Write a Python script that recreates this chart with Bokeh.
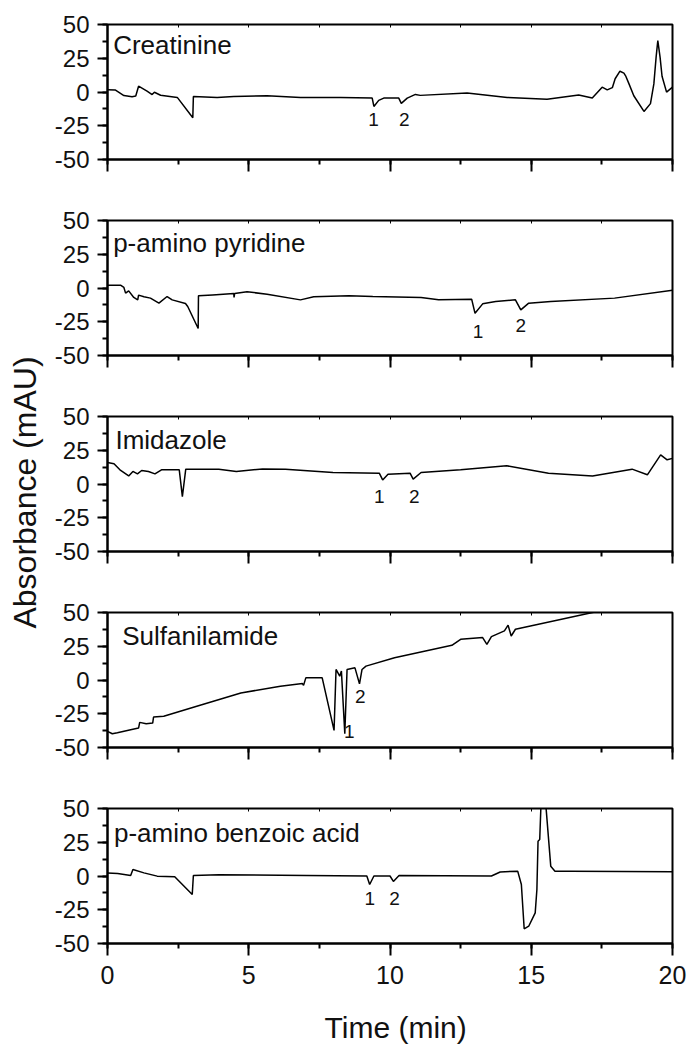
import math
from bokeh.plotting import figure
from bokeh.layouts import column, row
from bokeh.models import Range1d, SingleIntervalTicker, LinearAxis, Label, ColumnDataSource, CustomJSTickFormatter
from bokeh.core.properties import value
from bokeh.embed import file_html
from bokeh.resources import INLINE

FONT = "Liberation Sans"
INK = "#111111"

# ---------------- data (time in min, absorbance in mAU) ----------------
panel_names = ["Creatinine", "p-amino pyridine", "Imidazole", "Sulfanilamide", "p-amino benzoic acid"]
x_title = "Time (min)"
y_title = "Absorbance (mAU)"

creatinine_t = [0, 0.27, 0.58, 0.87, 1.0, 1.1, 1.4, 1.58, 1.66, 1.88, 2.47, 3.02, 3.04, 3.88, 4.47,
                5.65, 6.83, 8.25, 9.37, 9.43, 9.6, 9.78, 10.31, 10.4, 10.61, 10.9, 11.07, 12.73,
                14.15, 15.56, 16.68, 17.16, 17.51, 17.69, 17.87, 17.97, 18.14, 18.28, 18.34, 18.46,
                18.63, 18.99, 19.22, 19.34, 19.42, 19.48, 19.56, 19.63, 19.79, 20.0]
creatinine_y = [1.6, 1.5, -2.6, -3.5, -3.0, 4.3, 0.6, -1.9, -0.2, -2.4, -4.0, -19.1, -3.3, -4.0, -3.3,
                -2.8, -4.0, -4.1, -4.5, -10.7, -6.2, -4.5, -4.5, -8.4, -4.5, -1.8, -2.5, -0.8,
                -4.0, -5.4, -2.3, -4.5, 3.6, 1.6, 3.2, 9.8, 15.4, 14.0, 12.0, 6.0,
                -2.8, -14.4, -8.6, 6.0, 25.8, 38.0, 25.8, 11.7, -0.1, 3.6]

pyridine_t = [0, 0.46, 0.58, 0.64, 0.75, 0.93, 1.07, 1.1, 1.29, 1.52, 1.82, 2.11, 2.29, 2.76, 2.84,
              3.21, 3.22, 3.72, 4.47, 4.48, 4.5, 4.94, 5.65, 6.83, 7.3, 8.54, 9.39, 11.1, 11.72,
              12.89, 13.01, 13.28, 13.74, 14.44, 14.63, 14.91, 15.69, 17.95, 20.0]
pyridine_y = [2.1, 2.1, 0.4, -3.8, -2.1, -7.0, -8.8, -5.3, -6.5, -7.5, -11.2, -6.3, -8.8, -11.5, -13.7,
              -30.0, -5.8, -5.1, -4.1, -7.0, -4.0, -2.8, -4.6, -8.8, -6.5, -5.8, -6.25, -7.0, -8.75,
              -8.25, -18.75, -11.75, -10.0, -8.75, -16.25, -11.25, -10.0, -7.5, -1.75]

imidazole_t = [0, 0.23, 0.44, 0.75, 0.9, 1.06, 1.21, 1.45, 1.68, 1.91, 2.54, 2.65, 2.77, 3.94, 4.56,
               5.49, 6.3, 7.98, 9.62, 9.74, 9.93, 10.71, 10.82, 11.1, 12.5, 14.13, 15.61, 17.17,
               18.57, 19.11, 19.58, 19.81, 20.0]
imidazole_y = [15.9, 15.0, 10.5, 6.0, 9.3, 7.5, 10.0, 9.3, 7.5, 10.5, 10.5, -9.3, 11.0, 11.0, 9.3,
               11.2, 11.0, 8.5, 8.0, 3.0, 7.3, 8.0, 3.6, 8.5, 10.5, 13.5, 8.0, 6.0,
               11.0, 6.8, 21.6, 17.9, 19.0]

sulfa_t = [0, 0.17, 0.35, 0.82, 1.1, 1.14, 1.37, 1.6, 1.63, 1.99, 3.16, 4.72, 6.12, 6.9, 6.94, 7.02,
           7.6, 8.02, 8.09, 8.22, 8.28, 8.4, 8.48, 8.76, 8.92, 9.01, 9.15, 10.16, 12.19, 12.5, 13.28,
           13.43, 13.59, 14.05, 14.18, 14.29, 14.44, 17.17, 20.0]
sulfa_y = [-38.0, -39.8, -39.0, -36.8, -35.6, -31.4, -32.4, -31.9, -27.4, -26.9, -19.5, -9.6, -4.6,
           -2.6, -4.0, 1.6, 1.6, -37.3, 7.8, 2.8, 6.6, -39.8, 7.8, 9.0, -2.9, 7.8, 10.3, 16.5, 25.7,
           30.1, 31.4, 26.4, 32.1, 36.4, 40.6, 32.6, 37.6, 50.0, 62.0]

benzoic_t = [0, 0.36, 0.82, 0.9, 1.29, 1.76, 2.38, 3.0, 3.04, 3.94, 7.05, 9.18, 9.28, 9.43, 10.0,
             10.12, 10.32, 13.59, 13.9, 14.52, 14.65, 14.75, 14.91, 15.14, 15.2, 15.24, 15.3, 15.36,
             15.45, 15.53, 15.69, 15.84, 16.39, 20.0]
benzoic_y = [2.3, 1.9, 0.4, 4.8, 2.3, -0.1, -0.6, -13.7, 0.4, 0.9, 0.4, 0.0, -6.3, 0.0, 0.0,
             -4.0, 0.4, 0.0, 3.0, 3.6, -6.3, -39.1, -37.2, -27.3, -10.0, 25.8, 27.0, 62.0,
             62.0, 49.0, 7.3, 3.6, 3.6, 3.1]

# peak labels "1" and "2": time, absorbance (centre of the digit)
peak_text = ["1", "2"]
creatinine_peaks_t = [9.42, 10.51]
creatinine_peaks_y = [-20.6, -20.6]
pyridine_peaks_t = [13.12, 14.63]
pyridine_peaks_y = [-32.2, -27.7]
imidazole_peaks_t = [9.62, 10.86]
imidazole_peaks_y = [-9.2, -9.2]
sulfa_peaks_t = [8.56, 8.95]
sulfa_peaks_y = [-38.3, -12.4]
benzoic_peaks_t = [9.28, 10.16]
benzoic_peaks_y = [-16.9, -16.9]

# panel name positions (time, absorbance at text middle)
name_t = [0.2, 0.2, 0.28, 0.52, 0.23]
name_y = [34.5, 33.5, 32.5, 32.5, 32.0]

x_tick_interval = 5
y_tick_interval = 25
y_tick_labels = {-50: "-50", -25: "-25", 0: "0", 25: "25", 50: "50"}

series = [
    (creatinine_t, creatinine_y, creatinine_peaks_t, creatinine_peaks_y),
    (pyridine_t, pyridine_y, pyridine_peaks_t, pyridine_peaks_y),
    (imidazole_t, imidazole_y, imidazole_peaks_t, imidazole_peaks_y),
    (sulfa_t, sulfa_y, sulfa_peaks_t, sulfa_peaks_y),
    (benzoic_t, benzoic_y, benzoic_peaks_t, benzoic_peaks_y),
]

LABEL_W = 45          # width of the strip carrying the vertical title
W = 687 - LABEL_W     # width of the panels
BL = 107 - LABEL_W    # left border of the panels
blank = CustomJSTickFormatter(code="return ''")


def bare(width, height, xr, yr, left=0, right=0):
    f = figure(width=width, height=height, x_range=xr, y_range=yr, output_backend="svg",
               toolbar_location=None, min_border_left=left, min_border_right=right,
               min_border_top=0, min_border_bottom=0)
    f.axis.visible = False
    f.grid.visible = False
    f.outline_line_color = None
    f.background_fill_color = "white"
    f.border_fill_color = "white"
    return f


figs = []
for i, (t, y, pt, py) in enumerate(series):
    last = (i == len(series) - 1)
    h = 213 if last else 196
    p = figure(width=W, height=h, x_range=Range1d(0, 20), y_range=Range1d(-50, 50),
               output_backend="svg", toolbar_location=None,
               min_border_left=BL, min_border_right=15, min_border_top=24,
               min_border_bottom=(h - 24 - 135))
    p.grid.visible = False
    p.outline_line_color = "black"
    p.outline_line_width = 2
    p.background_fill_color = "white"
    p.border_fill_color = "white"

    p.line(t, y, line_color="black", line_width=1.5)

    src = ColumnDataSource(dict(x=pt, y=py, text=peak_text))
    p.text(x="x", y="y", text="text", source=src, text_align="center",
           text_baseline="middle", text_font=value(FONT), text_font_size="19px",
           text_color=INK)

    p.add_layout(Label(x=name_t[i], y=name_y[i], text=panel_names[i], text_font=FONT,
                       text_font_size="26px", text_baseline="middle", text_color=INK))

    xa = p.xaxis[0]
    xa.ticker = SingleIntervalTicker(interval=x_tick_interval, num_minor_ticks=2)
    xa.axis_line_width = 2
    xa.major_tick_line_width = 2
    xa.minor_tick_line_width = 2
    xa.major_tick_out = 12
    xa.major_tick_in = 0
    xa.minor_tick_out = 5
    xa.minor_tick_in = 0
    xa.major_label_text_font = FONT
    xa.major_label_text_color = INK
    xa.major_label_text_font_size = "25px"
    if last:
        xa.major_label_standoff = 10
    else:
        xa.formatter = blank

    ya = p.yaxis[0]
    ya.ticker = SingleIntervalTicker(interval=y_tick_interval, num_minor_ticks=2)
    ya.major_label_overrides = y_tick_labels
    ya.axis_line_width = 2
    ya.major_tick_line_width = 2
    ya.minor_tick_line_width = 2
    ya.major_tick_out = 10
    ya.major_tick_in = 0
    ya.minor_tick_out = 5
    ya.minor_tick_in = 0
    ya.major_label_text_font = FONT
    ya.major_label_text_font_size = "24px"
    ya.major_label_text_color = INK
    ya.major_label_standoff = 8

    top = LinearAxis(ticker=SingleIntervalTicker(interval=2.5, num_minor_ticks=0),
                     formatter=blank,
                     major_tick_in=3, major_tick_out=0, minor_tick_in=0, minor_tick_out=0,
                     axis_line_color=None, major_tick_line_width=1)
    p.add_layout(top, "above")
    figs.append(p)

# strip under the panels carrying the x title (same time scale as the panels)
used = 196 * 4 + 213
xt = bare(W, 1047 - used, Range1d(0, 20), Range1d(1047 - used, 0), left=BL, right=15)
xt.add_layout(Label(x=10.2, y=30, text=x_title, text_font=FONT, text_font_size="30px",
                    text_align="center", text_baseline="middle", text_color=INK))

# strip left of the panels carrying the y title (pixel-like coordinates, y down)
yt = bare(LABEL_W, 1047, Range1d(0, LABEL_W), Range1d(1047, 0))
yt.add_layout(Label(x=24, y=492, text=y_title, text_font=FONT, text_font_size="32px",
                    angle=math.pi / 2, text_align="center", text_baseline="middle",
                    text_color=INK))

layout = row(yt, column(*figs, xt, spacing=0), spacing=0)
open("out.html", "w").write(file_html(layout, INLINE))
